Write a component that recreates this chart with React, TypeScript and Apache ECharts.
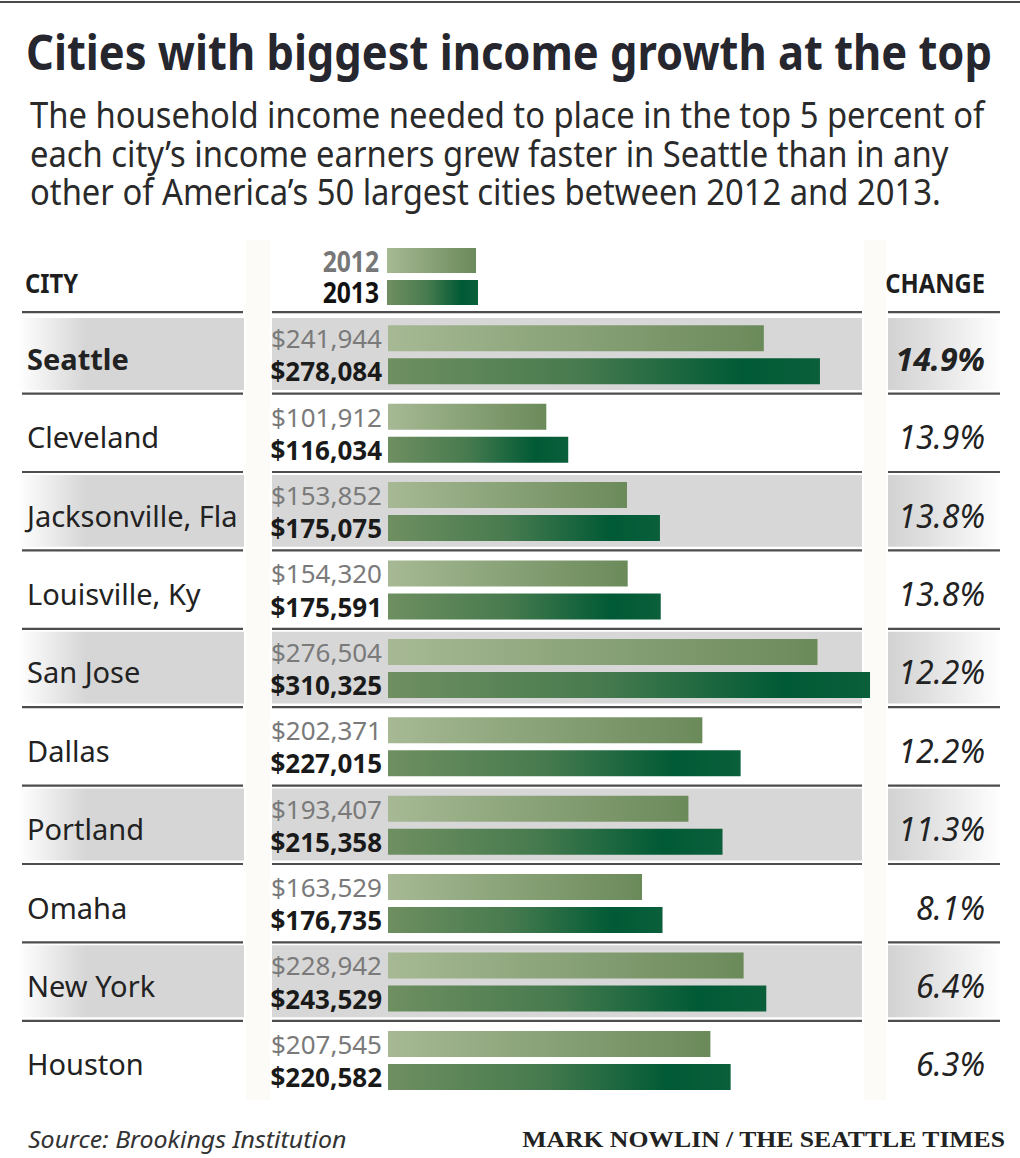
import React, { useEffect, useRef } from "react";
import * as echarts from "echarts";

const cities = ["Seattle", "Cleveland", "Jacksonville, Fla", "Louisville, Ky", "San Jose", "Dallas", "Portland", "Omaha", "New York", "Houston"];
const income2012 = [241944, 101912, 153852, 154320, 276504, 202371, 193407, 163529, 228942, 207545];
const income2013 = [278084, 116034, 175075, 175591, 310325, 227015, 215358, 176735, 243529, 220582];
const changes = ["14.9%", "13.9%", "13.8%", "13.8%", "12.2%", "12.2%", "11.3%", "8.1%", "6.4%", "6.3%"];
const years = ["2012", "2013"];

const titleText = "Cities with biggest income growth at the top";
const subtitleLines = [
  "The household income needed to place in the top 5 percent of",
  "each city\u2019s income earners grew faster in Seattle than in any",
  "other of America\u2019s 50 largest cities between 2012 and 2013.",
];
const sourceText = "Source: Brookings Institution";
const creditText = "MARK NOWLIN / THE SEATTLE TIMES";

const W = 1020;
const H = 1158;
const GRID_LEFT = 388;
const GRID_TOP = 315.6;
const BAND = 78.4;
const GRID_W = 512.6;
const X_MAX = 330000;
const FONT = "Noto Sans";

const fmt = (v: number) => "$" + v.toLocaleString("en-US");

const grad2012 = () =>
  new echarts.graphic.LinearGradient(0, 0, 1, 0, [
    { offset: 0, color: "#a6b994" },
    { offset: 1, color: "#6b8a5a" },
  ]);
const grad2013 = () =>
  new echarts.graphic.LinearGradient(0, 0, 1, 0, [
    { offset: 0, color: "#6f8f61" },
    { offset: 0.45, color: "#467a4e" },
    { offset: 0.82, color: "#005a35" },
    { offset: 1, color: "#0b5f3b" },
  ]);

function txt(text: string, x: number, y: number, o: any = {}) {
  const align = o.align || "left";
  return {
    type: "text",
    x,
    y,
    z: 20,
    scaleX: o.scaleX || 1,
    style: {
      text,
      fontSize: o.fontSize || 20,
      fontWeight: o.fontWeight || "normal",
      fontStyle: o.fontStyle || "normal",
      fontFamily: o.fontFamily || FONT,
      fill: o.fill || "#222",
      align,
      textAlign: align,
      verticalAlign: "middle",
      textVerticalAlign: "middle",
    },
  };
}

function buildGraphics() {
  const els: any[] = [];
  // top rule
  els.push({ type: "rect", z: 1, shape: { x: 0, y: 1, width: W, height: 2 }, style: { fill: "#4a4a4a" } });
  // faint column gaps
  els.push({ type: "rect", z: 0, shape: { x: 246, y: 240, width: 24, height: 860 }, style: { fill: "#fcfbf7" } });
  els.push({ type: "rect", z: 0, shape: { x: 864, y: 240, width: 22, height: 860 }, style: { fill: "#fcfbf7" } });
  // row shading
  cities.forEach((_, i) => {
    if (i % 2 !== 0) return;
    const top = GRID_TOP + i * BAND + 2.5;
    const h = BAND - 6.5;
    els.push({
      type: "rect", z: 1,
      shape: { x: 18, y: top, width: 226, height: h },
      style: {
        fill: new echarts.graphic.LinearGradient(0, 0, 1, 0, [
          { offset: 0, color: "#ffffff" },
          { offset: 0.3, color: "#d6d6d6" },
          { offset: 1, color: "#d6d6d6" },
        ]),
      },
    });
    els.push({ type: "rect", z: 1, shape: { x: 272, y: top, width: 590, height: h }, style: { fill: "#d7d7d7" } });
    els.push({
      type: "rect", z: 1,
      shape: { x: 888, y: top, width: 114, height: h },
      style: {
        fill: new echarts.graphic.LinearGradient(0, 0, 1, 0, [
          { offset: 0, color: "#d2d2d2" },
          { offset: 0.3, color: "#dedede" },
          { offset: 1, color: "#ffffff" },
        ]),
      },
    });
  });
  // row rules
  const ruleYs = [GRID_TOP - 3.5];
  for (let i = 1; i < cities.length; i++) ruleYs.push(GRID_TOP + i * BAND - 0.5);
  ruleYs.forEach((y) => {
    [[22, 243], [272, 862], [888, 1000]].forEach(([a, b]) => {
      els.push({ type: "rect", z: 3, shape: { x: a, y: y - 1, width: b - a, height: 2.2 }, style: { fill: "#4d4d4d" } });
    });
  });
  // title + subtitle
  els.push(txt(titleText, 509, 51, { align: "center", fontSize: 49, fontWeight: "bold", fill: "#26262e", scaleX: 0.887 }));
  subtitleLines.forEach((l, i) => els.push(txt(l, 30, 114 + i * 38.5, { fontSize: 36, fill: "#2a2a2a", scaleX: 0.91 })));
  // headers
  els.push(txt("CITY", 25, 282, { fontSize: 27, fontWeight: "bold", fill: "#1e1e1e", scaleX: 0.88 }));
  els.push(txt("CHANGE", 985, 282, { align: "right", fontSize: 27, fontWeight: "bold", fill: "#1e1e1e", scaleX: 0.88 }));
  // legend
  els.push(txt(years[0], 379, 261, { align: "right", fontSize: 28, fontWeight: "bold", fill: "#777", scaleX: 0.88 }));
  els.push(txt(years[1], 379, 292, { align: "right", fontSize: 28, fontWeight: "bold", fill: "#111", scaleX: 0.88 }));
  els.push({ type: "rect", z: 3, shape: { x: 387, y: 248, width: 89, height: 25 }, style: { fill: grad2012() } });
  els.push({ type: "rect", z: 3, shape: { x: 387, y: 280, width: 91, height: 25 }, style: { fill: grad2013() } });
  // footer
  els.push(txt(sourceText, 28, 1139, { fontSize: 24, fontStyle: "italic", fill: "#333", scaleX: 1.04 }));
  els.push(txt(creditText, 1005, 1139, { align: "right", fontSize: 24, fontWeight: "bold", fontFamily: "Liberation Serif", fill: "#222", scaleX: 1.07 }));
  return els;
}

export default function App() {
  const ref = useRef<HTMLDivElement>(null);
  useEffect(() => {
    if (!ref.current) return;
    const chart = echarts.init(ref.current, null, { renderer: "svg" });
    const option: any = {
      animation: false,
      backgroundColor: "#ffffff",
      grid: { left: GRID_LEFT, top: GRID_TOP, width: GRID_W, height: BAND * cities.length, containLabel: false },
      xAxis: { type: "value", min: 0, max: X_MAX, show: false },
      yAxis: [
        {
          type: "category",
          data: cities,
          inverse: true,
          z: 10,
          axisLine: { show: false },
          axisTick: { show: false },
          splitLine: { show: false },
          axisLabel: {
            margin: GRID_LEFT - 27,
            align: "left",
            formatter: (v: string, i: number) => (i === 0 ? `{b|${v}}` : `{n|${v}}`),
            rich: {
              b: { fontSize: 29, fontWeight: "bold", fontFamily: FONT, color: "#222", padding: [7, 0, 0, 0] },
              n: { fontSize: 29, fontWeight: "normal", fontFamily: FONT, color: "#222", padding: [7, 0, 0, 0] },
            },
          },
        },
        {
          type: "category",
          data: changes,
          inverse: true,
          position: "right",
          z: 10,
          axisLine: { show: false },
          axisTick: { show: false },
          splitLine: { show: false },
          axisLabel: {
            margin: 985 - (GRID_LEFT + GRID_W),
            align: "right",
            formatter: (v: string, i: number) => (i === 0 ? `{b|${v}}` : `{n|${v}}`),
            rich: {
              b: { fontSize: 32, fontWeight: "bold", fontStyle: "italic", fontFamily: FONT, color: "#222", padding: [7, 0, 0, 0] },
              n: { fontSize: 32, fontWeight: "normal", fontStyle: "italic", fontFamily: FONT, color: "#222", padding: [7, 0, 0, 0] },
            },
          },
        },
      ],
      series: [
        {
          type: "bar",
          name: years[0],
          data: income2012,
          yAxisIndex: 0,
          barWidth: 26,
          barGap: "27%",
          z: 5,
          itemStyle: { color: grad2012() },
          label: {
            show: true,
            position: "left",
            distance: 6,
            formatter: (p: any) => fmt(p.value),
            fontSize: 26,
            fontFamily: FONT,
            color: "#7a7a7a",
          },
        },
        {
          type: "bar",
          name: years[1],
          data: income2013,
          yAxisIndex: 0,
          barWidth: 26,
          barGap: "27%",
          z: 5,
          itemStyle: { color: grad2013() },
          label: {
            show: true,
            position: "left",
            distance: 6,
            formatter: (p: any) => fmt(p.value),
            fontSize: 26,
            fontWeight: "bold",
            fontFamily: FONT,
            color: "#1a1a1a",
          },
        },
      ],
      graphic: { elements: buildGraphics() },
    };
    chart.setOption(option);
    return () => chart.dispose();
  }, []);
  return <div ref={ref} style={{ position: "fixed", left: 0, top: 0, width: W, height: H }} />;
}
